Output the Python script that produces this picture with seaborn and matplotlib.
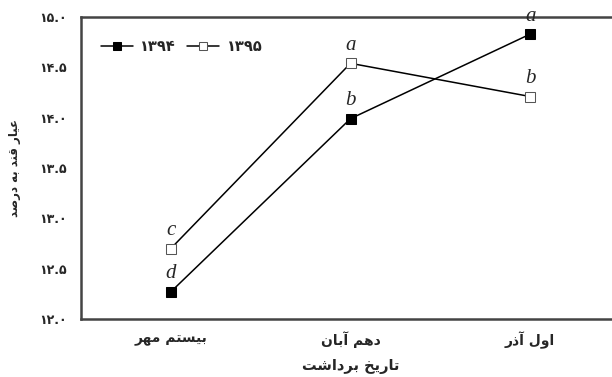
import seaborn as sns
import matplotlib.pyplot as plt
import pandas as pd

# Persian shaping helpers (matplotlib has no Arabic shaping / RTL)
FORMS = {
    'ا': (0xFE8D, 0xFE8E, None, None), 'آ': (0xFE81, 0xFE82, None, None),
    'ب': (0xFE8F, 0xFE90, 0xFE91, 0xFE92), 'ت': (0xFE95, 0xFE96, 0xFE97, 0xFE98),
    'خ': (0xFEA5, 0xFEA6, 0xFEA7, 0xFEA8), 'د': (0xFEA9, 0xFEAA, None, None),
    'ذ': (0xFEAB, 0xFEAC, None, None), 'ر': (0xFEAD, 0xFEAE, None, None),
    'س': (0xFEB1, 0xFEB2, 0xFEB3, 0xFEB4), 'ش': (0xFEB5, 0xFEB6, 0xFEB7, 0xFEB8),
    'ص': (0xFEB9, 0xFEBA, 0xFEBB, 0xFEBC), 'ع': (0xFEC9, 0xFECA, 0xFECB, 0xFECC),
    'ق': (0xFED5, 0xFED6, 0xFED7, 0xFED8), 'ل': (0xFEDD, 0xFEDE, 0xFEDF, 0xFEE0),
    'م': (0xFEE1, 0xFEE2, 0xFEE3, 0xFEE4), 'ن': (0xFEE5, 0xFEE6, 0xFEE7, 0xFEE8),
    'ه': (0xFEE9, 0xFEEA, 0xFEEB, 0xFEEC), 'و': (0xFEED, 0xFEEE, None, None),
    'ی': (0xFEEF, 0xFEF0, 0xFEF3, 0xFEF4),
}


def fa(text):
    out = []
    for i, ch in enumerate(text):
        if ch not in FORMS:
            out.append(ch)
            continue
        prev = text[i - 1] if i > 0 else ''
        nxt = text[i + 1] if i + 1 < len(text) else ''
        jp = prev in FORMS and FORMS[prev][2] is not None
        jn = FORMS[ch][2] is not None and nxt in FORMS
        iso, fin, ini, med = FORMS[ch]
        code = med if (jp and jn) else fin if jp else ini if jn else iso
        out.append(chr(code))
    return ''.join(out[::-1])


def fa_num(v):
    digits = '۰۱۲۳۴۵۶۷۸۹'
    return ''.join(digits[int(c)] if c.isdigit() else c for c in f'{v:.1f}')


# data
dates = ['بیستم مهر', 'دهم آبان', 'اول آذر']
years = ['۱۳۹۴', '۱۳۹۵']
sugar_1394 = [12.27, 13.99, 14.83]
sugar_1395 = [12.70, 14.54, 14.21]
letters_1394 = ['d', 'b', 'a']
letters_1395 = ['c', 'a', 'b']

df = pd.DataFrame({
    'pos': list(range(len(dates))) * 2,
    'sugar': sugar_1394 + sugar_1395,
    'year': [years[0]] * 3 + [years[1]] * 3,
})

sns.set_style('white')
plt.rcParams['font.family'] = ['DejaVu Sans']

fig = plt.figure(figsize=(6.12, 3.77), dpi=100)
ax = fig.add_axes([81 / 612, 1 - 319 / 377, (620 - 81) / 612, (319 - 17) / 377])

sns.lineplot(data=df[df.year == years[0]], x='pos', y='sugar', ax=ax,
             color='black', lw=1.1, marker='s', markersize=7,
             markerfacecolor='black', markeredgecolor='black', label=years[0])
sns.lineplot(data=df[df.year == years[1]], x='pos', y='sugar', ax=ax,
             color='black', lw=1.1, marker='s', markersize=7,
             markerfacecolor='white', markeredgecolor='#555555', label=years[1])

for vals, lets in [(sugar_1394, letters_1394), (sugar_1395, letters_1395)]:
    for i, (v, t) in enumerate(zip(vals, lets)):
        ax.annotate(t, (i, v), xytext=(0, 6), textcoords='offset points',
                    ha='center', va='bottom', fontsize=15, style='italic',
                    family='Liberation Serif')

ax.set_xlim(-0.5, 2.5)
ax.set_ylim(12, 15)
ax.set_xticks(range(len(dates)))
ax.set_xticklabels([fa(d) for d in dates], fontsize=10, fontweight='bold')
yt = [12.0, 12.5, 13.0, 13.5, 14.0, 14.5, 15.0]
ax.set_yticks(yt)
ax.set_yticklabels([fa_num(v) for v in yt], fontsize=9, fontweight='bold')
ax.tick_params(axis='x', direction='in', length=5, color='#aaaaaa', width=0.8, pad=9)
ax.tick_params(axis='y', length=0, pad=10)

ax.set_xlabel(fa('تاریخ برداشت'), fontsize=10.5, fontweight='bold', labelpad=7)
ax.set_ylabel(fa('عیار قند به درصد'), fontsize=8.5, fontweight='bold', labelpad=13)

for s in ['left', 'bottom', 'top', 'right']:
    ax.spines[s].set_color('#444444')
    ax.spines[s].set_linewidth(1.8)

ax.legend(loc='upper left', ncol=2, frameon=False, markerscale=0.8,
          handlelength=2.2, columnspacing=0.8, handletextpad=0.5,
          bbox_to_anchor=(0.012, 0.97), prop={'weight': 'bold', 'size': 10.5})

fig.savefig('out.png', dpi=100)
